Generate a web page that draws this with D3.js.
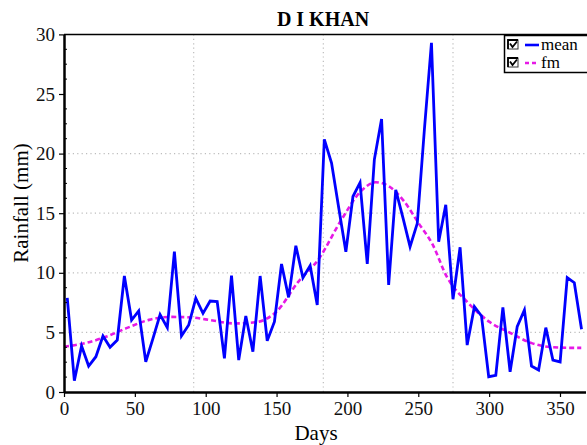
<!DOCTYPE html>
<html><head><meta charset="utf-8">
<script src="https://cdn.jsdelivr.net/npm/d3@7"></script>
<style>body{margin:0;background:#fff}svg{display:block}text{font-family:"Liberation Serif","Times New Roman",serif}</style>
</head><body>
<svg id="c" width="587" height="445"></svg>
<script>
const title = "D I KHAN";
const xLabel = "Days";
const yLabel = "Rainfall (mm)";
const xTicks = [0,50,100,150,200,250,300,350];
const yTicks = [0,5,10,15,20,25,30];
const yGrid = [5,10,15,20];
const xGrid = [91.5,183,274.5];
const meanDays = [2.3,7.3,12.4,17.4,22.5,27.5,32.5,37.6,42.6,47.7,52.7,57.7,62.8,67.8,72.9,77.9,82.9,88.0,93.0,98.1,103.1,108.1,113.2,118.2,123.3,128.3,133.3,138.4,143.4,148.5,153.5,158.5,163.6,168.6,173.7,178.7,183.7,188.8,193.8,198.9,203.9,208.9,214.0,219.0,224.1,229.1,234.1,239.2,244.2,249.3,254.3,259.3,264.4,269.4,274.5,279.5,284.5,289.6,294.6,299.7,304.7,309.7,314.8,319.8,324.9,329.9,334.9,340.0,345.0,350.1,355.1,360.1,365.2];
const meanVals = [7.9,0.95,3.86,2.18,2.96,4.7,3.75,4.36,9.73,6.04,6.8,2.54,4.5,6.5,5.4,11.77,4.7,5.62,7.86,6.6,7.63,7.58,2.82,9.76,2.68,6.38,3.38,9.73,4.3,5.9,10.74,7.94,12.27,9.59,10.6,7.3,21.2,19.2,15.5,11.77,16.4,17.56,10.74,19.5,22.9,8.98,16.95,14.6,12.19,14.15,22,29.3,12.6,15.7,7.78,12.14,3.94,7.16,6.38,1.28,1.4,7.1,1.7,5.48,6.88,2.18,1.85,5.4,2.68,2.52,9.6,9.17,5.26];
const fmDays = [0,15,30,45,60,75,90,105,120,135,150,165,180,195,210,220,230,240,250,260,270,285,300,315,330,345,360,365];
const fmVals = [3.8,4.1,4.65,5.4,6.05,6.3,6.25,6.0,5.75,5.85,6.75,9.2,11.2,14.3,16.9,17.6,17.2,16.0,14.2,12.4,9.7,7.5,5.9,4.95,4.1,3.75,3.7,3.7];
const legendItems = ["mean","fm"];
const colors = ["#0000ff","#e619e6"];

const svg = d3.select("#c");
const x = d3.scaleLinear().domain([0,368]).range([64,585.5]);
const y = d3.scaleLinear().domain([0,30]).range([392,34.4]);
const serif = "Liberation Serif";

// grid
const g = svg.append("g");
g.selectAll(".hg").data(yGrid).enter().append("line")
  .attr("x1",x(0)).attr("x2",x(368)).attr("y1",d=>y(d)).attr("y2",d=>y(d))
  .attr("stroke","#bdbdbd").attr("stroke-width",1.2).attr("stroke-dasharray","1.2,3.2");
g.selectAll(".vg").data(xGrid).enter().append("line")
  .attr("y1",y(0)).attr("y2",y(30)).attr("x1",d=>x(d)).attr("x2",d=>x(d))
  .attr("stroke","#bdbdbd").attr("stroke-width",1.2).attr("stroke-dasharray","1.2,3.2");

// top frame
svg.append("line").attr("x1",x(0)).attr("x2",587).attr("y1",y(30)).attr("y2",y(30)).attr("stroke","#000").attr("stroke-width",1.5);

// fm curve
svg.append("path").datum(fmDays.map((d,i)=>[d,fmVals[i]]))
  .attr("d",d3.line().x(d=>x(d[0])).y(d=>y(d[1])).curve(d3.curveMonotoneX))
  .attr("fill","none").attr("stroke",colors[1]).attr("stroke-width",2.6).attr("stroke-dasharray","5,3");

// mean line
svg.append("path").datum(meanDays.map((d,i)=>[d,meanVals[i]]))
  .attr("d",d3.line().x(d=>x(d[0])).y(d=>y(d[1])))
  .attr("fill","none").attr("stroke",colors[0]).attr("stroke-width",2.8).attr("stroke-linejoin","miter");

// axes
const xa = svg.append("g").attr("transform",`translate(0,${y(0)})`)
  .call(d3.axisBottom(x).tickValues(xTicks).tickSize(5).tickSizeOuter(0));
const ya = svg.append("g").attr("transform",`translate(${x(0)},0)`)
  .call(d3.axisLeft(y).tickValues(yTicks).tickSize(5).tickSizeOuter(0));
[xa,ya].forEach(a=>{
  a.attr("font-family",null).attr("font-size",null);
  a.select(".domain").attr("stroke","#000").attr("stroke-width",2.5);
  a.selectAll(".tick line").attr("stroke","#000").attr("stroke-width",1.2);
  a.selectAll(".tick text").attr("fill","#111").attr("font-family",serif).attr("font-size",19);
});
xa.selectAll(".tick text").attr("dy","0.8em");
ya.selectAll(".tick text").attr("dx","-1");
// minor y ticks (inward)
const minor = d3.range(0,30.01,1.25).filter(v=>v%5!==0);
svg.append("g").selectAll("line").data(minor).enter().append("line")
  .attr("x1",x(0)).attr("x2",x(0)+3).attr("y1",d=>y(d)).attr("y2",d=>y(d))
  .attr("stroke","#000").attr("stroke-width",1);

// labels
svg.append("text").attr("x",323).attr("y",26).attr("text-anchor","middle")
  .attr("font-size",20).attr("font-weight","bold").text(title);
svg.append("text").attr("x",316).attr("y",440).attr("text-anchor","middle")
  .attr("font-size",21).text(xLabel);
svg.append("text").attr("transform","translate(28,203) rotate(-90)").attr("text-anchor","middle")
  .attr("font-size",21).text(yLabel);

// legend
const lg = svg.append("g");
lg.append("rect").attr("x",504.5).attr("y",35.5).attr("width",90).attr("height",37)
  .attr("fill","#fff").attr("stroke","#000").attr("stroke-width",1.5);
legendItems.forEach((name,i)=>{
  const cy = 45 + i*18;
  const bx = 508, by = cy-5;
  lg.append("rect").attr("x",bx).attr("y",by).attr("width",10).attr("height",9)
    .attr("fill","#fff").attr("stroke","#333").attr("stroke-width",1);
  lg.append("path").attr("d",`M${bx},${by+9} V${by} H${bx+10}`).attr("fill","none").attr("stroke","#000").attr("stroke-width",1.8);
  lg.append("path").attr("d",`M${bx+2},${by+3.5} L${bx+4.5},${by+7} L${bx+9},${by+1.5}`)
    .attr("fill","none").attr("stroke","#000").attr("stroke-width",1.8);
  lg.append("line").attr("x1",525).attr("x2",539).attr("y1",cy).attr("y2",cy)
    .attr("stroke",colors[i]).attr("stroke-width",2.6).attr("stroke-dasharray",i===1?"4,3":null);
  lg.append("text").attr("x",541).attr("y",cy+5).attr("font-size",17).text(name);
});
</script>
</body></html>
